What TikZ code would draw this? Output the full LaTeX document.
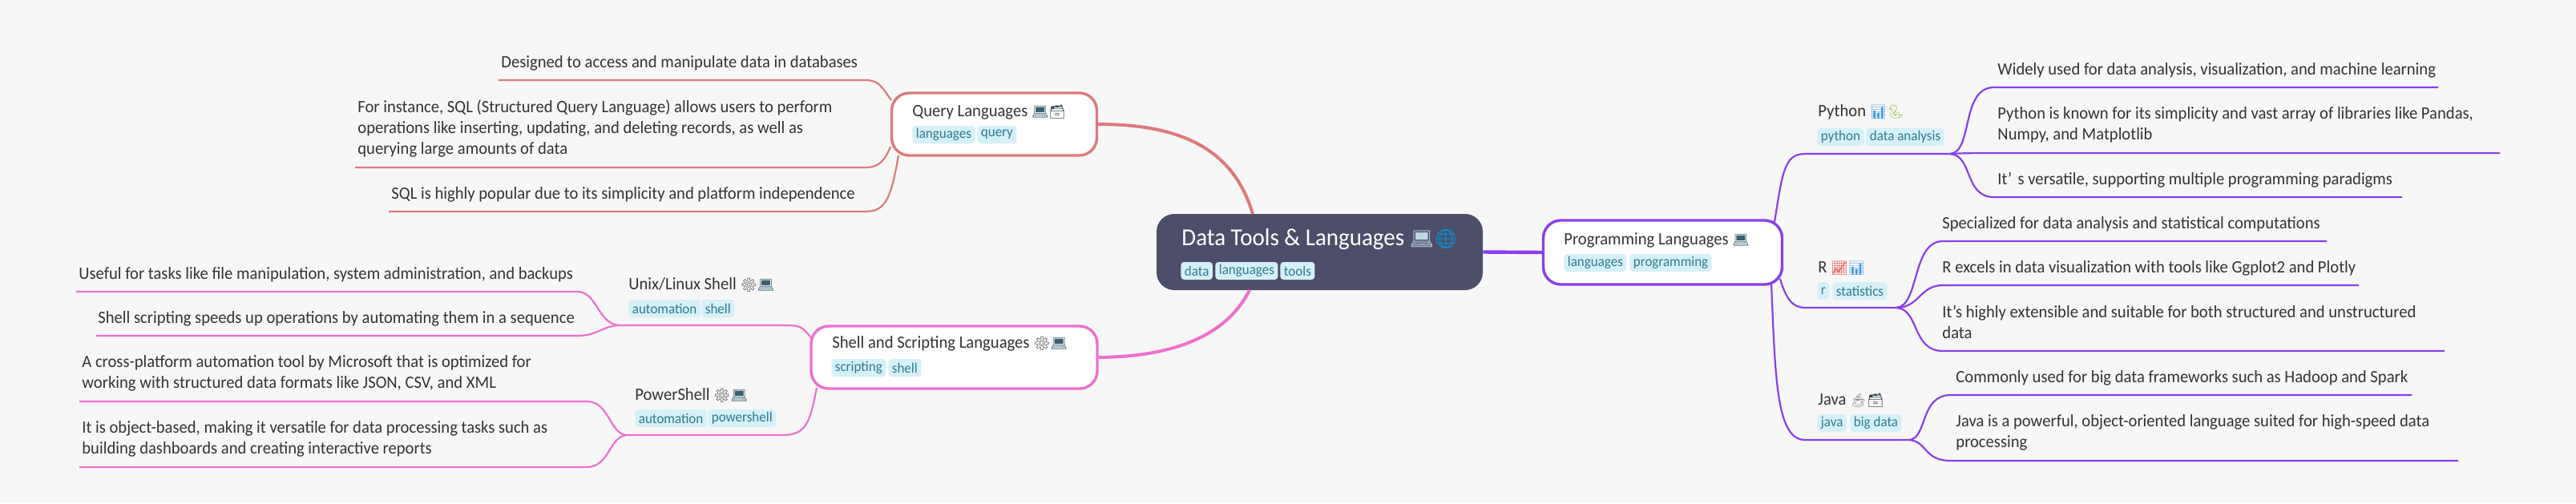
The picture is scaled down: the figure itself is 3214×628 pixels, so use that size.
\documentclass[tikz,border=0pt]{standalone}
\usepackage{fontspec}
\setmainfont[FakeStretch=0.955]{Carlito}
\newfontfamily\emojifont[Scale=0.78]{Noto Emoji}
\usepackage{tikz}

\definecolor{pagebg}{HTML}{F7F7F7}
\definecolor{rootbg}{HTML}{4C4E6A}
\definecolor{qcol}{HTML}{DE7A7A}
\definecolor{scol}{HTML}{EE70CE}
\definecolor{pcol}{HTML}{8A3FEE}
\definecolor{tagbg}{HTML}{D6F0F7}
\definecolor{tagfg}{HTML}{2F7A94}
\definecolor{leaffg}{HTML}{333333}

\newcommand{\laptop}{{\emojifont\textcolor[HTML]{37606E}{💻}}}
\newcommand{\lightlaptop}{{\emojifont\textcolor[HTML]{BFD8E2}{💻}}}
\newcommand{\cardbox}{{\emojifont\textcolor[HTML]{37474F}{🗃}}}
\newcommand{\globe}{{\emojifont\textcolor[HTML]{039BE5}{🌐}}}
\newcommand{\barchart}{{\emojifont\textcolor[HTML]{3D9BE9}{📊}}}
\newcommand{\upchart}{{\emojifont\textcolor[HTML]{E53935}{📈}}}
\newcommand{\snake}{{\emojifont\textcolor[HTML]{9CBF3C}{🐍}}}
\newcommand{\coffee}{{\emojifont\textcolor[HTML]{8E8E8E}{☕}}}
\newcommand{\gear}{{\emojifont\textcolor[HTML]{444444}{⚙}}}

\tikzset{
  box/.style={draw, fill=white, rounded corners=11pt, line width=1.7pt, inner sep=0pt},
  title/.style={anchor=west, inner sep=0pt, text=leaffg, font=\fontsize{10.8}{13}\selectfont},
  tag/.style={anchor=west, fill=tagbg, text=tagfg, rounded corners=2pt, inner xsep=2.25pt,
    inner ysep=0pt, minimum height=11pt, font=\fontsize{8.9}{11}\selectfont},
  leaf/.style={anchor=west, inner sep=0pt, align=left, text=leaffg, font=\fontsize{10.8}{13}\selectfont},
  qline/.style={draw=qcol, line width=1.1pt},
  sline/.style={draw=scol, line width=1.1pt},
  pline/.style={draw=pcol, line width=1.1pt}
}

\begin{document}
\begin{tikzpicture}[x=0.5pt,y=-0.5pt]

\useasboundingbox[fill=pagebg] (0,0) rectangle (3214,628);

%% main boxes
\node[fill=rootbg, rounded corners=11pt, minimum width=203.5pt, minimum height=47.5pt] (root) at (1646.5,314.5) {};
\node[box, draw=pcol, minimum width=149pt, minimum height=40pt] (prog) at (2074.5,315) {};
\node[box, draw=qcol, minimum width=128pt, minimum height=39pt] (query) at (1240.5,155) {};
\node[box, draw=scol, minimum width=178.5pt, minimum height=39pt] (shell) at (1190.5,446) {};

%% points on the lines
\coordinate (rootq) at (1563,267);
\coordinate (roots) at (1559,362);
\coordinate (qa) at (1112,125);     %% query, designed
\coordinate (qb) at (1111,183);     %% query, for instance
\coordinate (qc) at (1121,194);     %% query, sql
\coordinate (sx) at (1013,423);     %% shell, unix
\coordinate (sy) at (1019,484);     %% shell, powershell
\coordinate (px) at (2214,277);     %% prog, python
\coordinate (py) at (2221,348);     %% prog, r
\coordinate (pz) at (2210,354);     %% prog, java

\coordinate (unixl) at (771,406);
\coordinate (psl) at (781,543);
\coordinate (pyl) at (2433,192);
\coordinate (rl) at (2366,384);
\coordinate (javal) at (2382,549);

%% leaf lines
\coordinate (la) at (622,100);
\coordinate (lb) at (443,209);
\coordinate (lc) at (485,264);
\coordinate (ld) at (95,364);
\coordinate (le) at (120,419);
\coordinate (lf) at (99,501);
\coordinate (lg) at (99,583);
\coordinate (lh) at (3042,109);
\coordinate (li) at (3119,191);
\coordinate (lj) at (2997,246);
\coordinate (lk) at (2903,301);
\coordinate (ll) at (2943,356);
\coordinate (lm) at (3050,438);
\coordinate (ln) at (3009,493);
\coordinate (lo) at (3067,575);

%%% edges
\draw[draw=pcol, line width=2.2pt] (root.east) -- (prog.west);
\draw[draw=qcol, line width=2pt] (query.east) .. controls (1480,155) and (1540,190) .. (rootq);
\draw[draw=scol, line width=2pt] (shell.east) .. controls (1480,445) and (1535,410) .. (roots);

\draw[qline] (qa) .. controls (1100,108) and (1096,100) .. (1080,100) -- (la);
\draw[qline] (qb) .. controls (1105,198) and (1098,209) .. (1080,209) -- (lb);
\draw[qline] (qc) .. controls (1112,245) and (1106,264) .. (1080,264) -- (lc);

\draw[sline] (sx) .. controls (1000,406) and (998,406) .. (975,406) -- (unixl);
\draw[sline] (sy) .. controls (1010,530) and (1005,543) .. (975,543) -- (psl);
\draw[sline] (unixl) .. controls (745,402) and (745,364) .. (720,364) -- (ld);
\draw[sline] (unixl) .. controls (750,408) and (745,419) .. (720,419) -- (le);
\draw[sline] (psl) .. controls (760,540) and (760,501) .. (732,501) -- (lf);
\draw[sline] (psl) .. controls (760,546) and (760,583) .. (732,583) -- (lg);

\draw[pline] (px) .. controls (2224,215) and (2226,192) .. (2252,192) -- (pyl);
\draw[pline] (py) .. controls (2228,372) and (2236,384) .. (2252,384) -- (rl);
\draw[pline] (pz) .. controls (2215,470) and (2216,549) .. (2252,549) -- (javal);

\draw[pline] (pyl) .. controls (2462,190) and (2446,109) .. (2488,109) -- (lh);
\draw[pline] (pyl) .. controls (2450,191) and (2470,191) .. (2488,191) -- (li);
\draw[pline] (pyl) .. controls (2462,194) and (2450,246) .. (2488,246) -- (lj);
\draw[pline] (rl) .. controls (2395,382) and (2385,301) .. (2424,301) -- (lk);
\draw[pline] (rl) .. controls (2395,384) and (2395,356) .. (2424,356) -- (ll);
\draw[pline] (rl) .. controls (2395,386) and (2385,438) .. (2424,438) -- (lm);
\draw[pline] (javal) .. controls (2405,547) and (2395,493) .. (2434,493) -- (ln);
\draw[pline] (javal) .. controls (2405,551) and (2400,575) .. (2434,575) -- (lo);

%% root
\node[anchor=west, inner sep=0pt, text=white, font=\fontsize{15.2}{18}\selectfont] (roottitle) at (1474,299) {Data Tools \& Languages \lightlaptop\globe};
\node[tag] (tdata) at (1473,338) {data};
\node[tag] (tlang) at (1516,338) {languages};
\node[tag] (ttools) at (1597,338) {tools};

%% query
\node[title] (querytitle) at (1138,140) {Query Languages \laptop\cardbox};
\node[tag] (qtaga) at (1138,168) {languages};
\node[tag] (qtagb) at (1219,168) {query};

%% shell
\node[title] (shelltitle) at (1038,429) {Shell and Scripting Languages \gear\laptop};
\node[tag] (stag) at (1037,459) {scripting};
\node[tag] (stagb) at (1108,459) {shell};

%% unix
\node[title] (unix) at (784,355) {Unix/Linux Shell \gear\laptop};
\node[tag] (utaga) at (784,385) {automation};
\node[tag] (utagb) at (875,385) {shell};

%% powershell
\node[title] (ps) at (792,493) {PowerShell \gear\laptop};
\node[tag] (ptaga) at (792,522) {automation};
\node[tag] (ptagb) at (883,522) {powershell};

%% programming
\node[title] (progtitle) at (1951,300) {Programming Languages \laptop};
\node[tag] (gtaga) at (1951,328) {languages};
\node[tag] (gtagb) at (2033,328) {programming};

%% python
\node[title] (python) at (2268,140) {Python \barchart\snake};
\node[tag] (pytaga) at (2267,171) {python};
\node[tag] (pytagb) at (2328,171) {data analysis};

%% r
\node[title] (rlang) at (2268,335) {R \upchart\barchart};
\node[tag] (rtaga) at (2267,363) {r};
\node[tag] (rtagb) at (2286,363) {statistics};

%% java
\node[title] (java) at (2268,500) {Java \coffee\cardbox};
\node[tag] (jtaga) at (2267,528) {java};
\node[tag] (jtagb) at (2308,528) {big data};

%% leaves
\node[leaf] (leafa) at (625,79) {Designed to access and manipulate data in databases};
\node[leaf] (leafb) at (446,160) {For instance, SQL (Structured Query Language) allows users to perform\\operations like inserting, updating, and deleting records, as well as\\querying large amounts of data};
\node[leaf] (leafc) at (488,243) {SQL is highly popular due to its simplicity and platform independence};
\node[leaf] (leafd) at (98,343) {Useful for tasks like file manipulation, system administration, and backups};
\node[leaf] (leafe) at (122,398) {Shell scripting speeds up operations by automating them in a sequence};
\node[leaf] (leaff) at (102,466) {A cross-platform automation tool by Microsoft that is optimized for\\working with structured data formats like JSON, CSV, and XML};
\node[leaf] (leafg) at (102,548) {It is object-based, making it versatile for data processing tasks such as\\building dashboards and creating interactive reports};
\node[leaf] (leafh) at (2492,88) {Widely used for data analysis, visualization, and machine learning};
\node[leaf] (leafi) at (2492,156) {Python is known for its simplicity and vast array of libraries like Pandas,\\Numpy, and Matplotlib};
\node[leaf] (leafj) at (2492,225) {It’\,\,s versatile, supporting multiple programming paradigms};
\node[leaf] (leafk) at (2423,280) {Specialized for data analysis and statistical computations};
\node[leaf] (leafl) at (2423,335) {R excels in data visualization with tools like Ggplot2 and Plotly};
\node[leaf] (leafm) at (2423,402) {It's highly extensible and suitable for both structured and unstructured\\data};
\node[leaf] (leafn) at (2440,472) {Commonly used for big data frameworks such as Hadoop and Spark};
\node[leaf] (leafo) at (2440,540) {Java is a powerful, object-oriented language suited for high-speed data\\processing};

\end{tikzpicture}
\end{document}
